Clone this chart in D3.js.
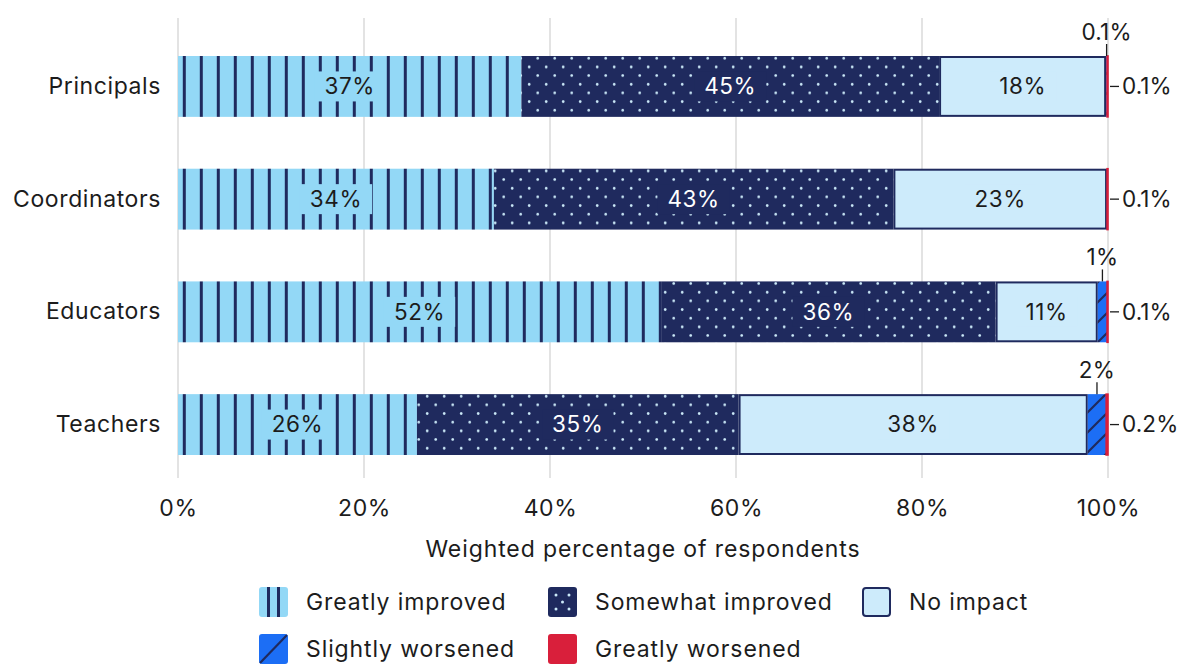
<!DOCTYPE html>
<html>
<head>
<meta charset="utf-8">
<script src="https://cdn.jsdelivr.net/npm/d3@7"></script>
<style>
  html, body { margin: 0; padding: 0; background: #fff; }
  svg { display: block; font-family: Inter, "Noto Sans", sans-serif; letter-spacing: 0.6px; }
</style>
</head>
<body>
<svg id="chart" width="1178" height="664"></svg>
<script>
// Survey groups and the share of responses in each impact category (percent)
const groups = ["Principals", "Coordinators", "Educators", "Teachers"];
const categories = ["Greatly improved", "Somewhat improved", "No impact", "Slightly worsened", "Greatly worsened"];
const greatlyImproved  = [37, 34, 52, 26];
const somewhatImproved = [45, 43, 36, 35];
const noImpact         = [18, 23, 11, 38];
const slightlyWorsened = [0.1, 0, 1, 2];
const greatlyWorsened  = [0.1, 0.1, 0.1, 0.2];
const tickValues = [0, 0.2, 0.4, 0.6, 0.8, 1];
const axisTitle = "Weighted percentage of respondents";

const keys = ["gi", "si", "ni", "sw", "gw"];
const rows = groups.map((g, i) => ({
  group: g,
  gi: greatlyImproved[i], si: somewhatImproved[i], ni: noImpact[i],
  sw: slightlyWorsened[i], gw: greatlyWorsened[i]
}));

const C = {
  navy: "#1f2a5e", light: "#93d8f6", pale: "#cdebfb", blue: "#1c6ef5",
  red: "#d91f3b", dot: "#cbe9f8", grid: "#e3e3e3", text: "#1c1c1c"
};
const FS = 22.5;   // value labels
const AFS = 23;    // axis and legend text

const svg = d3.select("#chart");
const x = d3.scaleLinear().domain([0, 1]).range([178, 1108]);
const y = d3.scaleBand().domain(groups).range([56, 455]).paddingInner(0.46).paddingOuter(0);

// Patterns
const defs = svg.append("defs");
const pStripe = defs.append("pattern").attr("id", "stripe").attr("patternUnits", "userSpaceOnUse")
  .attr("x", x(0) + 4.8).attr("y", 0).attr("width", 17).attr("height", 20);
pStripe.append("rect").attr("width", 17).attr("height", 20).attr("fill", C.light);
pStripe.append("rect").attr("x", 0).attr("width", 3).attr("height", 20).attr("fill", C.navy);

const pDot = defs.append("pattern").attr("id", "dots").attr("patternUnits", "userSpaceOnUse")
  .attr("x", 0).attr("y", 2).attr("width", 17).attr("height", 17.33);
pDot.append("rect").attr("width", 17).attr("height", 17.33).attr("fill", C.navy);
pDot.append("circle").attr("cx", 10.7).attr("cy", 4.3).attr("r", 1.35).attr("fill", C.dot);
pDot.append("circle").attr("cx", 2.2).attr("cy", 13).attr("r", 1.35).attr("fill", C.dot);

const pDiag = defs.append("pattern").attr("id", "diag").attr("patternUnits", "userSpaceOnUse")
  .attr("x", 0).attr("y", 0).attr("width", 20).attr("height", 20);
pDiag.append("rect").attr("width", 20).attr("height", 20).attr("fill", C.blue);
pDiag.append("path").attr("d", "M-5,25 L25,-5 M-5,5 L5,-5 M15,25 L25,15")
  .attr("stroke", C.navy).attr("stroke-width", 2.2);

const fills = { gi: "url(#stripe)", si: "url(#dots)", ni: C.pale, sw: "url(#diag)", gw: C.red };
const boxFill = { gi: C.light, si: C.navy, ni: C.pale };
const labelColor = { gi: C.text, si: "#ffffff", ni: C.text };

// Grid lines
svg.append("g").selectAll("line").data(tickValues).join("line")
  .attr("x1", d => x(d)).attr("x2", d => x(d))
  .attr("y1", 18).attr("y2", 478)
  .attr("stroke", C.grid).attr("stroke-width", 2);

// Stacked bars, each row normalised to its total
const series = d3.stack().keys(keys).offset(d3.stackOffsetExpand)(rows);

const bars = svg.append("g");
series.forEach(s => {
  const k = s.key;
  const inset = k === "ni" ? 1 : 0;
  bars.append("g").selectAll("rect").data(s.filter(d => d[1] - d[0] > 0)).join("rect")
    .attr("x", d => x(d[0]) + inset)
    .attr("width", d => Math.max(0, x(d[1]) - x(d[0]) - 2 * inset))
    .attr("y", d => y(d.data.group) + inset)
    .attr("height", y.bandwidth() - 2 * inset)
    .attr("fill", fills[k])
    .attr("stroke", k === "ni" ? C.navy : k === "gw" ? C.red : "none")
    .attr("stroke-width", k === "ni" ? 2 : 1.6);
});

// Labels inside the three main segments
const fmt = v => (v < 1 ? d3.format(".1f")(v) : d3.format("d")(v)) + "%";
["gi", "si", "ni"].forEach(k => {
  const s = series.find(t => t.key === k);
  s.forEach(d => {
    const cx = (x(d[0]) + x(d[1])) / 2;
    const cy = y(d.data.group) + y.bandwidth() / 2;
    const g = svg.append("g");
    const t = g.append("text")
      .attr("x", cx).attr("y", cy).attr("dy", "0.35em")
      .attr("text-anchor", "middle").attr("font-size", FS)
      .attr("fill", labelColor[k]).text(fmt(d.data[k]));
    const w = t.node().getComputedTextLength();
    g.insert("rect", "text")
      .attr("x", cx - w / 2 - 10).attr("width", w + 20)
      .attr("y", cy - 15).attr("height", 30)
      .attr("fill", boxFill[k]);
  });
});

// Small segments: slightly worsened labelled above, greatly worsened to the right
const sw = series.find(t => t.key === "sw");
sw.forEach(d => {
  if (d.data.sw <= 0) return;
  const cx = (x(d[0]) + x(d[1])) / 2;
  const top = y(d.data.group);
  svg.append("line").attr("x1", cx).attr("x2", cx).attr("y1", top - 12).attr("y2", top)
    .attr("stroke", C.text).attr("stroke-width", 1.3);
  svg.append("text").attr("x", cx).attr("y", top - 16)
    .attr("text-anchor", "middle").attr("font-size", FS).attr("fill", C.text)
    .attr("letter-spacing", "0.2px")
    .text(fmt(d.data.sw));
});
const gw = series.find(t => t.key === "gw");
gw.forEach(d => {
  const cy = y(d.data.group) + y.bandwidth() / 2;
  const ex = x(d[1]);
  svg.append("line").attr("x1", ex + 2).attr("x2", ex + 11).attr("y1", cy).attr("y2", cy)
    .attr("stroke", C.text).attr("stroke-width", 1.3);
  svg.append("text").attr("x", ex + 14).attr("y", cy).attr("dy", "0.35em")
    .attr("font-size", FS).attr("fill", C.text)
    .attr("letter-spacing", "0.1px")
    .text(fmt(d.data.gw));
});

// Category axis
const yAxis = svg.append("g").attr("transform", `translate(${x(0) - 17},0)`)
  .call(d3.axisLeft(y).tickSize(0).tickPadding(0))
  .attr("font-family", null).attr("font-size", AFS);
yAxis.select(".domain").remove();
yAxis.selectAll("text").attr("fill", C.text);

// Percentage axis
const xAxis = svg.append("g").attr("transform", "translate(0,478)")
  .call(d3.axisBottom(x).tickValues(tickValues).tickFormat(d3.format(".0%")).tickSize(0).tickPadding(22))
  .attr("font-family", null).attr("font-size", AFS);
xAxis.select(".domain").remove();
xAxis.selectAll("text").attr("fill", C.text);

svg.append("text").attr("x", x(0.5)).attr("y", 557)
  .attr("text-anchor", "middle").attr("font-size", AFS).attr("fill", C.text)
  .attr("letter-spacing", "0.9px")
  .text(axisTitle);

// Legend
const legendItems = [
  { key: "gi", label: categories[0], x: 259, y: 587 },
  { key: "si", label: categories[1], x: 548, y: 587 },
  { key: "ni", label: categories[2], x: 862, y: 587 },
  { key: "sw", label: categories[3], x: 259, y: 634 },
  { key: "gw", label: categories[4], x: 548, y: 634 }
];
const leg = svg.append("g").selectAll("g").data(legendItems).join("g")
  .attr("transform", d => `translate(${d.x},${d.y})`);
leg.each(function (d) {
  const g = d3.select(this);
  const W = 29, H = 30;
  if (d.key === "gi") {
    g.append("rect").attr("width", W).attr("height", H).attr("rx", 3).attr("fill", C.light);
    g.append("rect").attr("x", 8).attr("width", 3).attr("height", H).attr("fill", C.navy);
    g.append("rect").attr("x", 18).attr("width", 3).attr("height", H).attr("fill", C.navy);
  } else if (d.key === "si") {
    g.append("rect").attr("width", W).attr("height", H).attr("rx", 3).attr("fill", C.navy);
    [[8, 8], [21, 8], [14.5, 15], [8, 22], [21, 22]].forEach(p =>
      g.append("circle").attr("cx", p[0]).attr("cy", p[1]).attr("r", 1.5).attr("fill", C.dot));
  } else if (d.key === "ni") {
    g.append("rect").attr("x", 1).attr("y", 1).attr("width", W - 2).attr("height", H - 2)
      .attr("rx", 3).attr("fill", C.pale).attr("stroke", C.navy).attr("stroke-width", 2);
  } else if (d.key === "sw") {
    g.append("rect").attr("width", W).attr("height", H).attr("rx", 3).attr("fill", C.blue);
    g.append("line").attr("x1", 1).attr("y1", H - 1).attr("x2", W - 1).attr("y2", 1)
      .attr("stroke", C.navy).attr("stroke-width", 2.2);
  } else {
    g.append("rect").attr("width", W).attr("height", H).attr("rx", 3).attr("fill", C.red);
  }
  g.append("text").attr("x", 47).attr("y", H / 2).attr("dy", "0.33em")
    .attr("font-size", AFS).attr("fill", C.text).attr("letter-spacing", "0.9px").text(d.label);
});
</script>
</body>
</html>
